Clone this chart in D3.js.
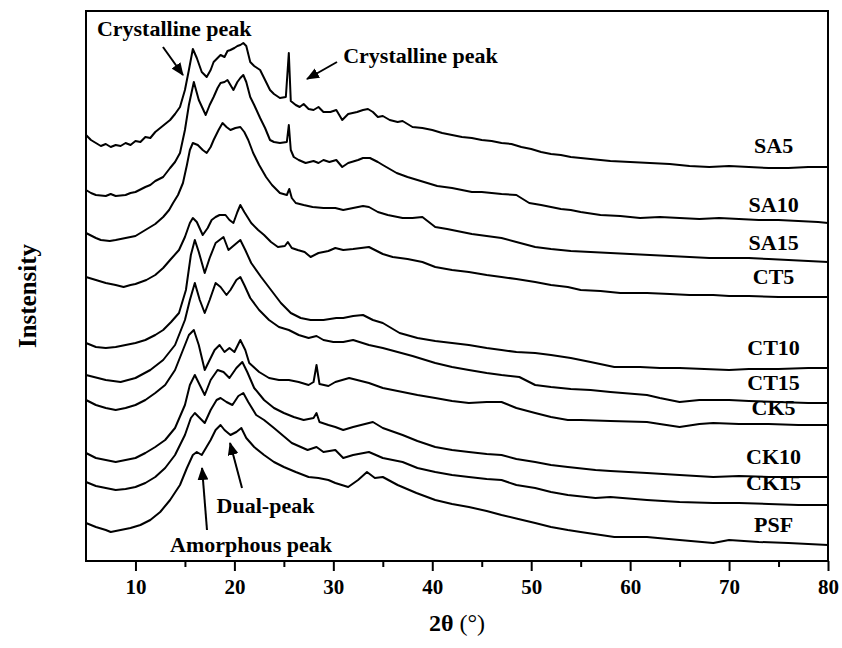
<!DOCTYPE html>
<html><head><meta charset="utf-8">
<script src="https://cdn.jsdelivr.net/npm/d3@7"></script>
<style>
html,body{margin:0;padding:0;background:#fff;}
text{font-family:"Liberation Serif","Times New Roman",serif;font-weight:bold;fill:#000;}
</style></head>
<body><svg id="c" width="842" height="648"></svg>
<script>
// 2θ ticks
const xTicks = [10,20,30,40,50,60,70,80];
const xMinor = [15,25,35,45,55,65,75];
// Series names (top to bottom)
const names = ["SA5","SA10","SA15","CT5","CT10","CT15","CK5","CK10","CK15","PSF"];
// Intensity (a.u., stacked): [2θ, value]
const SA5 = [[5,426],[5.5,421],[6,418],[6.5,415],[7,417],[7.5,414],[8,416],[8.5,415],[9,418],[9.5,416],[10,420],[10.5,419],[11,424],[11.5,423],[12,429],[12.5,433],[13,437],[13.5,441],[14,447],[14.5,454],[15,471],[15.4,491],[15.8,512],[16.2,503],[16.7,489],[17.2,484],[17.6,491],[17.9,499],[18.3,503],[18.6,506],[19,504],[19.3,510],[19.6,511],[20,513],[20.3,515],[20.6,516],[20.9,518],[21.2,515],[21.6,499],[22,495],[22.6,491],[23,483],[23.6,471],[24,467],[24.6,463],[25.2,464],[25.5,508],[25.7,460],[26.2,456],[26.6,454],[27,457],[27.5,452],[28,451],[28.5,454],[29,449],[29.7,449],[30.3,451],[30.9,441],[31.5,447],[32.4,449],[33,451],[33.5,452],[34,449],[34.5,444],[35,445],[35.7,441],[36.5,439],[37,440],[38,434],[39,433],[40,431],[41,428],[42,426],[43,424],[44,423],[45,421],[46,420],[47,418],[48,417],[49,414],[50,412],[51,409],[52,407],[53,406],[54,404],[55,403],[56,402],[58,400],[60,399],[62,398],[64,397],[66,395],[68,394],[70,395],[72,394],[74,393],[76,393],[78,394],[80,394]];
const SA10 = [[5,371],[5.5,368],[6,366],[7,365],[7.5,367],[8,365],[9,366],[9.5,368],[10,369],[11,374],[11.5,376],[12,380],[12.8,384],[13.5,393],[14,399],[14.5,408],[15,431],[15.4,456],[15.9,479],[16.4,461],[17.1,446],[17.5,456],[17.9,464],[18.3,473],[18.6,478],[19,479],[19.3,481],[19.6,476],[19.9,471],[20.3,479],[20.6,483],[20.9,486],[21.2,479],[21.6,464],[22,456],[22.6,443],[23.1,433],[23.6,421],[24,419],[24.6,418],[25.3,419],[25.5,436],[25.7,411],[26,404],[26.5,401],[27.2,398],[28,400],[28.5,398],[29,401],[29.6,399],[30.3,401],[30.9,394],[31.5,398],[32.5,401],[33,403],[33.7,403],[34.5,399],[35,396],[36.4,388],[37.5,384],[38.5,381],[39.5,378],[40.5,375],[42,373],[43,371],[44,369],[45,369],[46,368],[47,367],[48.5,366],[49.8,358],[51,356],[52,354],[53,352],[54,351],[55,349],[57,346],[59,345],[61,343],[63,344],[65,343],[67,342],[69,343],[71,342],[73,341],[75,341],[77,340],[79,339],[80,338]];
const SA15 = [[5,328],[6,323],[6.5,321],[7.4,320],[8,321],[9,323],[10,325],[11,331],[12,337],[12.8,344],[13.4,351],[13.8,358],[14.3,366],[14.8,378],[15.2,396],[15.5,411],[15.8,418],[16.3,416],[16.8,411],[17.2,408],[17.6,414],[17.9,421],[18.4,431],[18.8,438],[19.2,434],[19.6,431],[20.1,433],[20.6,434],[21,429],[21.4,421],[21.9,408],[22.5,396],[23.2,384],[23.8,376],[24.6,368],[25.3,366],[25.55,372],[25.8,363],[26.2,358],[27,356],[27.9,354],[29,353],[30.2,353],[31,351],[32,353],[33,355],[33.6,354],[34.5,349],[35.5,346],[37,343],[38,343],[39,344],[40.3,334],[41.5,332],[43,329],[44,327],[45.5,325],[47,323],[48.5,319],[50.4,314],[52,312],[54,310],[56,309],[58,308],[60,307],[62,306],[64,305],[66,304],[68,303],[70,303],[72,303],[74,302],[76,301],[78,300],[80,299]];
const CT5 = [[5,284],[6,281],[7,278],[8,276],[8.8,274],[9.5,276],[10,277],[11.1,281],[12,286],[12.8,293],[13.5,301],[14.4,311],[15,324],[15.5,338],[15.8,343],[16.2,339],[16.8,326],[17.3,333],[17.7,341],[18.1,344],[18.5,346],[19.1,346],[19.5,341],[19.9,338],[20.3,349],[20.6,356],[21,349],[21.7,338],[22.4,331],[23,326],[23.7,319],[24.4,314],[25.1,315],[25.4,319],[25.8,313],[26.4,311],[27.1,309],[27.7,304],[28.5,308],[29.5,310],[30.2,313],[31,311],[32,312],[33.6,314],[35,307],[36,304],[37.5,302],[39,299],[40.3,294],[42,291],[43.7,289],[45.5,286],[47,284],[48.5,282],[50.4,279],[52,276],[53.7,274],[55,271],[57,270],[59,268],[61.7,268],[64,267],[66,266],[68.4,266],[70,265],[72,265],[75,264],[78,264],[80,264]];
const CT10 = [[5,218],[6,214],[7,213],[8,214],[9,216],[10,218],[11,221],[12,226],[12.8,231],[13.6,239],[14.4,248],[15.1,271],[15.6,306],[16,321],[16.4,309],[17,288],[17.5,303],[18.1,318],[18.9,324],[19.4,311],[20,316],[20.6,321],[21.1,311],[21.7,298],[22.7,284],[23.7,271],[24.7,258],[25.7,248],[26.7,243],[27.7,241],[29,241],[30.3,243],[31,243],[32,245],[33,246],[34,241],[35,238],[36.7,228],[38.5,223],[40.3,220],[42,218],[43.7,216],[45.5,213],[47,211],[48.5,209],[50.4,208],[52,206],[54,203],[56,199],[58.4,194],[61,194],[63,193],[65,193],[67.5,192],[70,191],[72,192],[75,192],[78,193],[80,193]];
const CT15 = [[5,186],[7,181],[8.5,179],[10,183],[11.5,191],[12.8,201],[14,216],[15,241],[15.5,261],[16,278],[16.5,261],[17,248],[17.5,261],[18.1,278],[18.6,274],[19.2,266],[19.6,271],[20.2,281],[20.6,284],[21,276],[21.6,263],[22.5,251],[23.5,241],[24.5,234],[25.5,231],[26.5,226],[27.5,223],[28.3,225],[29,221],[30,219],[31,219],[32,221],[33.6,216],[35,213],[36.5,209],[38,205],[40.3,198],[42,194],[43.7,191],[45.5,188],[47,186],[48.8,184],[50.4,176],[52,174],[54,172],[56,171],[58,169],[61.7,166],[63,163],[65,159],[67,161],[70,161],[72,160],[75,159],[78,158],[80,158]];
const CK5 = [[5,161],[6,156],[7,153],[8,151],[9,153],[10,156],[11,161],[12,168],[13,176],[14,191],[14.8,211],[15.4,226],[15.9,231],[16.4,216],[17,191],[17.5,201],[18,211],[18.5,216],[19,209],[19.5,213],[20,209],[20.6,221],[21.1,211],[21.5,198],[22.5,189],[23.5,183],[24.5,181],[25.5,181],[26.5,179],[27.5,176],[28,179],[28.3,196],[28.6,177],[29.5,175],[30.2,179],[31.6,183],[33.6,178],[35,173],[37,169],[38.5,166],[40.3,163],[42,160],[43.7,158],[45.5,159],[47,159],[48.5,153],[50.4,148],[52,144],[53.7,141],[55,141],[58,140],[61.7,139],[63,137],[65,134],[67,137],[68.4,138],[71,137],[74,137],[77,136],[80,136]];
const CK10 = [[5,108],[6,103],[7,101],[8,99],[9,101],[10,103],[11,108],[12,114],[13,121],[14,133],[15,156],[15.5,176],[16,186],[16.5,176],[17,166],[17.6,181],[18.3,191],[18.9,189],[19.5,183],[20.2,193],[20.8,199],[21.3,189],[22,173],[23,161],[24,153],[25,148],[26,144],[27,141],[28,143],[28.3,148],[28.6,139],[29.5,136],[30.2,134],[31,131],[32,134],[34,139],[35,133],[37,126],[38.5,120],[40.3,114],[42,111],[43.7,109],[45.5,107],[47,106],[48.5,102],[50.4,99],[52,96],[53.7,94],[56.5,91],[58,90],[61.7,88],[65,86],[68.4,84],[71,85],[74,84],[77,84],[80,84]];
const CK15 = [[5,79],[6,75],[7,73],[8,71],[9,72],[10,74],[11,78],[12,84],[13,93],[14,106],[15,126],[15.6,143],[16,148],[16.5,143],[17,138],[17.6,151],[18.2,161],[18.6,163],[19.2,159],[19.8,156],[20.4,165],[20.9,168],[21.4,159],[22.2,146],[23,141],[24,133],[24.6,128],[25.8,118],[27.4,111],[28.3,114],[29,109],[30.2,111],[31,103],[32,106],[33.6,109],[35,103],[37,99],[38.5,93],[40.3,89],[42,86],[43.7,84],[45.5,82],[47,81],[48.5,76],[50.4,73],[52,69],[53.7,66],[56.5,63],[58,64],[61.7,61],[65,59],[68.4,58],[71,58],[74,57],[77,56],[80,56]];
const PSF = [[5,38],[6,34],[7,31],[7.5,29],[8.5,31],[9.5,33],[10.5,36],[11.5,41],[12.5,49],[13.5,61],[14.5,76],[15.2,93],[15.8,106],[16.2,109],[16.7,106],[17,111],[17.6,121],[18.1,131],[18.6,136],[19,131],[19.6,126],[20.2,129],[20.7,133],[21.2,123],[22,114],[23,106],[24,99],[25,94],[26.2,89],[27.5,84],[28.5,83],[29.5,81],[30.2,78],[31.5,74],[32.5,81],[33.4,89],[34.2,83],[35,84],[36.5,76],[38.4,68],[40.3,61],[42,57],[43.7,54],[45.5,50],[47,46],[48.7,42],[50.4,38],[52,34],[53.7,31],[55,29],[58.4,24],[61.7,24],[65,21],[68.4,18],[70,21],[73,19],[76,18],[80,16]];
const seriesData = [SA5,SA10,SA15,CT5,CT10,CT15,CK5,CK10,CK15,PSF];
// label anchor value (right side)
const labelValues = [408,349,311,277,206,171,146,97,71,29];

const svg = d3.select("#c");
const L=86,R=828,T=11,B=561;
const x = d3.scaleLinear().domain([5,80]).range([L,R]);
const y = d3.scaleLinear().domain([0,550]).range([B,T]);

svg.append("defs").append("marker").attr("id","ah").attr("viewBox","0 0 12 10")
  .attr("refX",11).attr("refY",5).attr("markerWidth",6.5).attr("markerHeight",5.5)
  .attr("orient","auto").append("path").attr("d","M0,0L12,5L0,10z").attr("fill","#000");

const line = d3.line().x(d=>x(d[0])).y(d=>y(d[1]));
svg.append("g").selectAll("path").data(seriesData).join("path")
  .attr("d",line).attr("fill","none").attr("stroke","#000").attr("stroke-width",2)
  .attr("stroke-linejoin","round");

// frame
svg.append("rect").attr("x",L).attr("y",T).attr("width",R-L).attr("height",B-T)
  .attr("fill","none").attr("stroke","#000").attr("stroke-width",2);

// bottom axis
const ax = svg.append("g").attr("transform",`translate(0,${B})`)
  .call(d3.axisBottom(x).tickValues(xTicks).tickSize(10).tickPadding(8).tickFormat(d3.format("d")));
ax.select(".domain").remove();
ax.selectAll("line").attr("stroke","#000").attr("stroke-width",2);
ax.selectAll("text").style("font-size","21px").attr("font-family",null);
const axm = svg.append("g").attr("transform",`translate(0,${B})`)
  .call(d3.axisBottom(x).tickValues(xMinor).tickSize(6).tickFormat(""));
axm.select(".domain").remove();
axm.selectAll("line").attr("stroke","#000").attr("stroke-width",2);

// axis titles
const xt = svg.append("text").attr("x",(L+R)/2).attr("y",631).attr("text-anchor","middle").style("font-size","24px");
xt.append("tspan").text("2θ ");
xt.append("tspan").style("font-weight","normal").text("(°)");
svg.append("text").attr("transform",`translate(36,${(T+B)/2+10}) rotate(-90)`).attr("text-anchor","middle")
  .style("font-size","25px").text("Instensity");

// series labels
svg.append("g").selectAll("text").data(names).join("text")
  .attr("x",x(74.5)).attr("y",(d,i)=>y(labelValues[i])).attr("text-anchor","middle")
  .style("font-size","22px").text(d=>d);

// annotations
const ann = [
  {t:"Crystalline peak", tx:6.1, ty:525, a:[12.78,514,14.8,486]},
  {t:"Crystalline peak", tx:31.0, ty:498, a:[30.37,499,27.34,482]},
  {t:"Dual-peak", tx:18.2, ty:48, a:[20.77,73,19.56,118]},
  {t:"Amorphous peak", tx:13.5, ty:9, a:[17.23,31,16.73,93]}
];
svg.append("g").selectAll("text").data(ann).join("text")
  .attr("x",d=>x(d.tx)).attr("y",d=>y(d.ty)).style("font-size","22px").text(d=>d.t);
svg.append("g").selectAll("line").data(ann).join("line")
  .attr("x1",d=>x(d.a[0])).attr("y1",d=>y(d.a[1])).attr("x2",d=>x(d.a[2])).attr("y2",d=>y(d.a[3]))
  .attr("stroke","#000").attr("stroke-width",2).attr("marker-end","url(#ah)");
</script></body></html>
